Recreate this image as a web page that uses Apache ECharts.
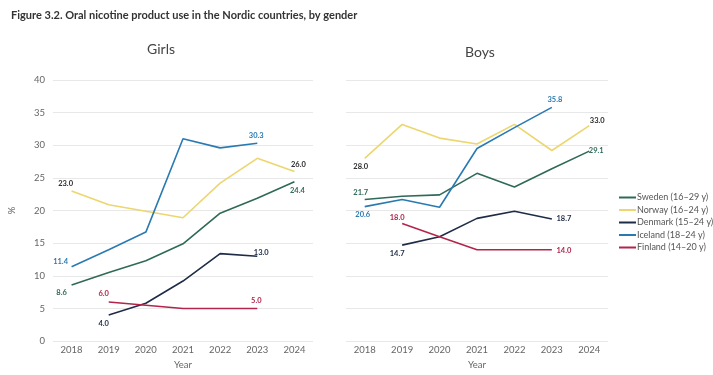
<!DOCTYPE html>
<html>
<head>
<meta charset="utf-8">
<script src="https://cdn.jsdelivr.net/npm/echarts@6/dist/echarts.min.js"></script>
<style>
  html, body { margin: 0; padding: 0; background: #fff; }
  #chart { width: 713px; height: 375px; }
</style>
</head>
<body>
<div id="chart"></div>
<script>
// categories
const years = ['2018', '2019', '2020', '2021', '2022', '2023', '2024'];
const yTicks = [0, 5, 10, 15, 20, 25, 30, 35, 40];

// girls
const girlsSweden = [8.6, 10.5, 12.3, 14.9, 19.6, 21.9, 24.4];
const girlsNorway = [23.0, 20.9, 19.9, 18.9, 24.2, 28.0, 26.0];
const girlsDenmark = [null, 4.0, 5.8, 9.2, 13.4, 13.0, null];
const girlsIceland = [11.4, 14.0, 16.7, 31.0, 29.6, 30.3, null];
const girlsFinland = [null, 6.0, 5.5, 5.0, 5.0, 5.0, null];

// boys
const boysSweden = [21.7, 22.2, 22.4, 25.7, 23.6, 26.4, 29.1];
const boysNorway = [28.0, 33.2, 31.1, 30.2, 33.2, 29.2, 33.0];
const boysDenmark = [null, 14.7, 16.0, 18.8, 19.9, 18.7, null];
const boysIceland = [20.6, 21.7, 20.5, 29.5, 32.7, 35.8, null];
const boysFinland = [null, 18.0, 16.0, 14.0, 14.0, 14.0, null];

const seriesNames = ['Sweden (16–29 y)', 'Norway (16–24 y)', 'Denmark (15–24 y)', 'Iceland (18–24 y)', 'Finland (14–20 y)'];
const colors = ['#2f6a59', '#ecd66e', '#1f2c47', '#2a7ab2', '#b3254b'];
const labelColors = ['#2f6a59', '#2b2b2b', '#1f2c47', '#2a7ab2', '#b3254b'];

// label offsets (first / last shown point) per panel & series
const girlsOffsets = [
  [[-10, 8], [3, 9]],
  [[-6, -7], [4, -7]],
  [[-5, 9], [4, -4]],
  [[-11, -5], [-1, -8]],
  [[-5, -8], [-1, -8]]
];
const boysOffsets = [
  [[-4, -7], [7, -1]],
  [[-4, 8], [8, -5]],
  [[-5, 8], [12, 0]],
  [[-2, 8], [3, -8]],
  [[-5, -6], [12, 1]]
];

function buildData(values, idx, offsets) {
  let first = values.findIndex(v => v != null);
  let last = values.length - 1;
  while (values[last] == null) last--;
  return values.map((v, i) => {
    if (v == null) return null;
    if (i !== first && i !== last) return v;
    const off = i === first ? offsets[0] : offsets[1];
    return {
      value: v,
      label: {
        show: true,
        position: 'inside',
        offset: off,
        formatter: (p) => p.value.toFixed(1),
        color: labelColors[idx],
        fontSize: 7.5,
        fontWeight: 'bold',
        fontFamily: 'Lato'
      }
    };
  });
}

function makeSeries(list, axisIndex, offsets) {
  return list.map((values, idx) => ({
    name: seriesNames[idx],
    type: 'line',
    xAxisIndex: axisIndex,
    yAxisIndex: axisIndex,
    data: buildData(values, idx, offsets[idx]),
    symbol: 'circle',
    symbolSize: 0,
    showSymbol: true,
    connectNulls: false,
    lineStyle: { color: colors[idx], width: 1.6 },
    itemStyle: { color: colors[idx] },
    emphasis: { disabled: true },
    animation: false
  }));
}

const girls = [girlsSweden, girlsNorway, girlsDenmark, girlsIceland, girlsFinland];
const boys = [boysSweden, boysNorway, boysDenmark, boysIceland, boysFinland];

const font = 'Lato';

function xAxis(gridIndex) {
  return {
    type: 'category',
    gridIndex: gridIndex,
    data: years,
    boundaryGap: true,
    axisLine: { show: false },
    axisTick: { show: false },
    axisLabel: { color: '#666', fontSize: 9.5, margin: 4, fontFamily: font },
    name: 'Year',
    nameLocation: 'middle',
    nameGap: 17,
    nameTextStyle: { color: '#666', fontSize: 9.5, fontFamily: font }
  };
}

function yAxis(gridIndex, showLabels) {
  return {
    type: 'value',
    gridIndex: gridIndex,
    min: yTicks[0],
    max: yTicks[yTicks.length - 1],
    interval: yTicks[1] - yTicks[0],
    axisLine: { show: false },
    axisTick: { show: false },
    axisLabel: { show: showLabels, color: '#666', fontSize: 9.5, margin: 8, fontFamily: font },
    splitLine: { lineStyle: { color: '#e8e8e8', width: 1 } },
    name: showLabels ? '%' : '',
    nameLocation: 'middle',
    nameGap: 36,
    nameRotate: 90,
    nameTextStyle: { color: '#666', fontSize: 9.5, fontFamily: font }
  };
}

const option = {
  backgroundColor: '#fff',
  animation: false,
  title: [
    {
      text: 'Figure 3.2. Oral nicotine product use in the Nordic countries, by gender',
      left: 6, top: 5,
      textStyle: { color: '#333', fontSize: 11, fontWeight: 'bold', fontFamily: font }
    },
    {
      text: 'Girls', left: 142, top: 37,
      textStyle: { color: '#444', fontSize: 14, fontWeight: 'normal', fontFamily: font }
    },
    {
      text: 'Boys', left: 460, top: 40,
      textStyle: { color: '#444', fontSize: 14, fontWeight: 'normal', fontFamily: font }
    }
  ],
  legend: {
    data: seriesNames,
    orient: 'vertical',
    left: 614,
    top: 188,
    itemWidth: 17,
    itemHeight: 2,
    itemGap: 3.5,
    icon: 'rect',
    textStyle: { color: '#555', fontSize: 9, fontFamily: font, padding: [0, 0, 0, -4] }
  },
  grid: [
    { left: 53, right: 400, top: 80, bottom: 30 },
    { left: 346, right: 105, top: 80, bottom: 30 }
  ],
  xAxis: [xAxis(0), xAxis(1)],
  yAxis: [yAxis(0, true), yAxis(1, false)],
  series: makeSeries(girls, 0, girlsOffsets).concat(makeSeries(boys, 1, boysOffsets))
};

const chart = echarts.init(document.getElementById('chart'));
chart.setOption(option);
</script>
</body>
</html>
